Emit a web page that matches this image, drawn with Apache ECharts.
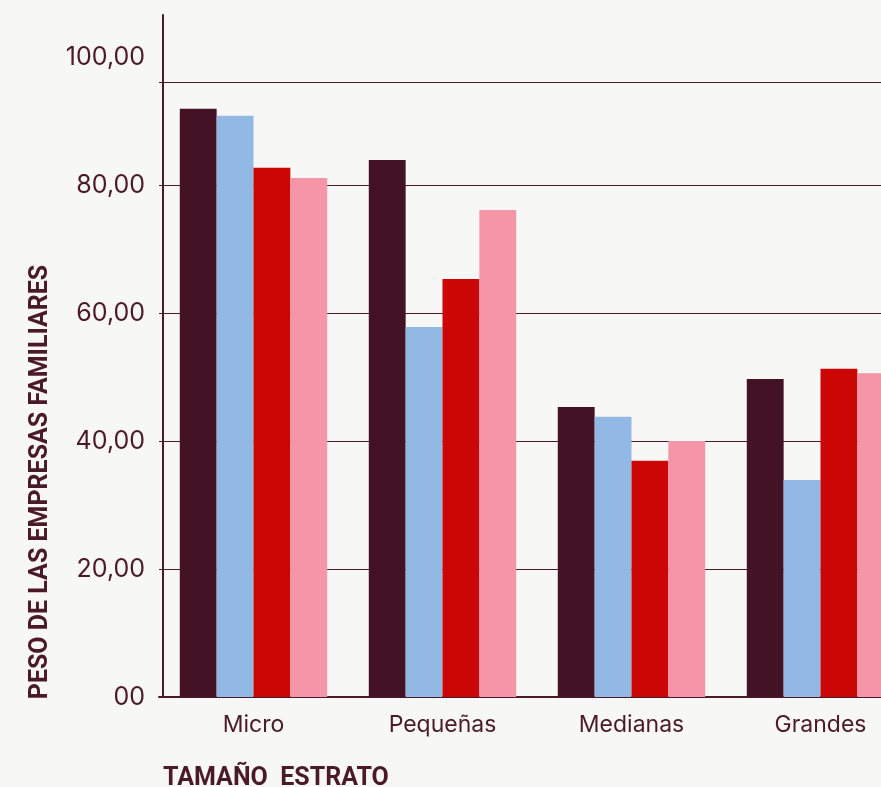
<!DOCTYPE html>
<html>
<head>
<meta charset="utf-8">
<script src="https://cdn.jsdelivr.net/npm/echarts@6/dist/echarts.min.js"></script>
<style>
  html, body { margin: 0; padding: 0; background: #f7f7f5; width: 881px; height: 787px; overflow: hidden; }
  #chart { width: 915px; height: 787px; }
</style>
</head>
<body>
<div id="chart"></div>
<script>
const categories = ['Micro', 'Pequeñas', 'Medianas', 'Grandes'];
const seriesA = [91.9, 83.9, 45.3, 49.7];
const seriesB = [90.8, 57.8, 43.8, 33.9];
const seriesC = [82.7, 65.3, 36.9, 51.3];
const seriesD = [81.1, 76.1, 40.0, 50.6];
const seriesNames = ['Serie 1', 'Serie 2', 'Serie 3', 'Serie 4'];
const colors = ['#431225', '#92b9e3', '#cc0605', '#f595a8'];
const yTicks = [0, 20, 40, 60, 80, 100];
const topLine = 96;
const yMax = 106.56;
const yTitle = 'PESO DE LAS EMPRESAS FAMILIARES';
const xTitle = 'TAMAÑO  ESTRATO';

const ink = '#4a1a2a';
const chart = echarts.init(document.getElementById('chart'));
const dataSets = [seriesA, seriesB, seriesC, seriesD];
const series = dataSets.map((d, i) => ({
  name: seriesNames[i],
  type: 'bar',
  data: d,
  barGap: '0%',
  barCategoryGap: '22%',
  itemStyle: { color: colors[i] },
  z: 2
}));
series[0].markLine = {
  silent: true,
  symbol: ['none', 'none'],
  label: { show: false },
  lineStyle: { color: ink, width: 1, type: 'solid' },
  data: [{ yAxis: topLine }],
  animation: false
};

chart.setOption({
  animation: false,
  backgroundColor: '#f7f7f5',
  grid: { left: 159, right: 0, top: 15, bottom: 90, containLabel: false },
  xAxis: {
    type: 'category',
    data: categories,
    axisLine: { show: true, lineStyle: { color: ink, width: 2 } },
    axisTick: { show: false },
    axisLabel: { color: ink, fontFamily: 'Inter', fontSize: 23, margin: 17 }
  },
  yAxis: {
    type: 'value',
    min: 0,
    max: yMax,
    interval: 20,
    offset: -4,
    axisLine: { show: true, lineStyle: { color: ink, width: 2 } },
    axisTick: { show: false },
    splitLine: {
      show: true,
      lineStyle: {
        color: [ink, ink, ink, ink, ink, 'rgba(0,0,0,0)', 'rgba(0,0,0,0)'],
        width: 1
      }
    },
    axisLabel: {
      color: ink,
      fontFamily: 'Inter',
      fontSize: 25,
      margin: 18,
      showMaxLabel: false,
      formatter: v => (yTicks.indexOf(v) === -1 ? '' : (v === 0 ? '00' : v.toFixed(2).replace('.', ',')))
    }
  },
  graphic: [
    {
      type: 'text',
      x: 41, y: 482,
      rotation: Math.PI / 2,
      style: {
        text: yTitle,
        fill: ink,
        font: 'bold 25px Roboto, sans-serif',
        align: 'center',
        verticalAlign: 'middle'
      }
    },
    {
      type: 'text',
      x: 163, y: 779,
      style: {
        text: xTitle,
        fill: ink,
        font: 'bold 25px Roboto, sans-serif',
        align: 'left',
        verticalAlign: 'middle'
      }
    }
  ],
  series: series
});
</script>
</body>
</html>
